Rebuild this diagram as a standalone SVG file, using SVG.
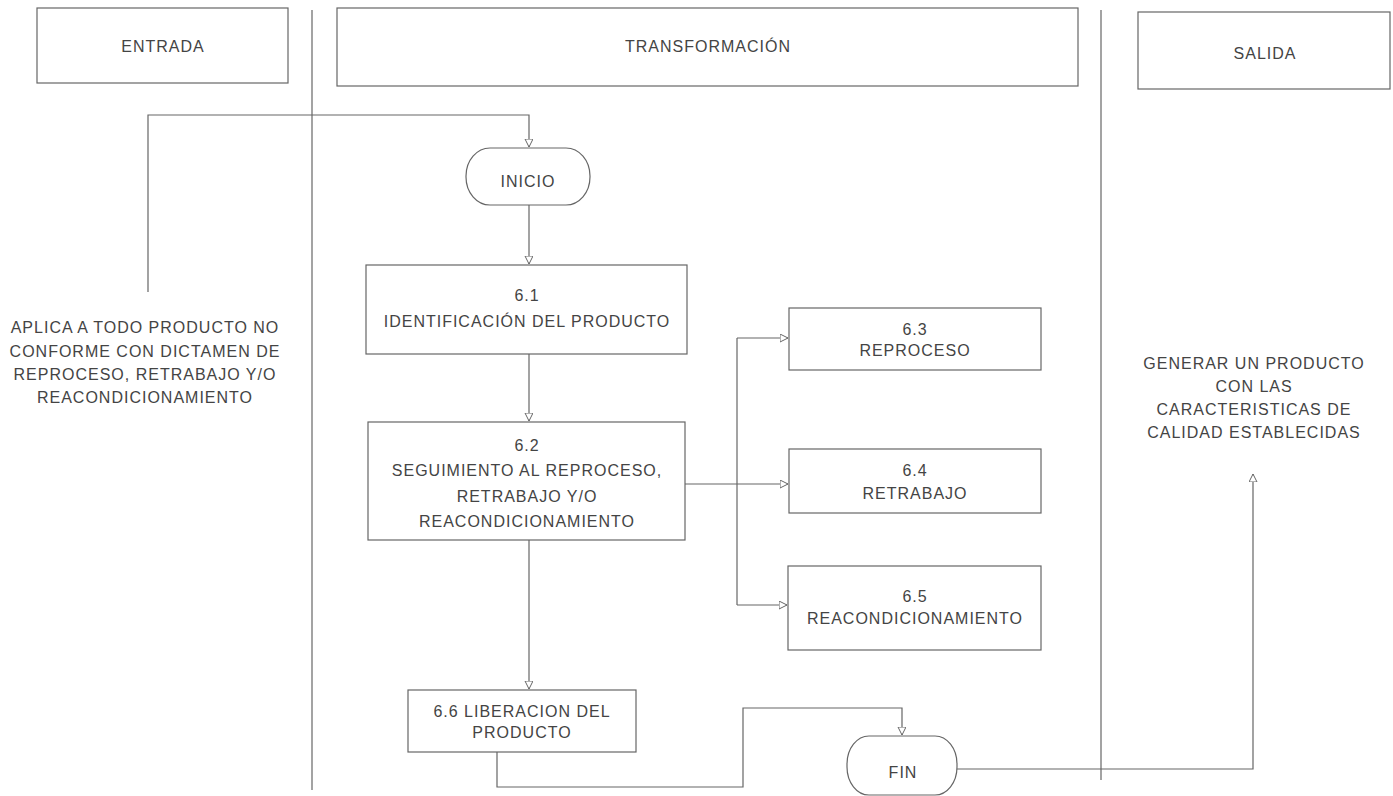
<svg xmlns="http://www.w3.org/2000/svg" width="1393" height="796" viewBox="0 0 1393 796">
<style>
.box{fill:#fff;stroke:#666;stroke-width:1.2}
.div{stroke:#666;stroke-width:1.2;fill:none}
.t{font-family:"Liberation Sans",Arial,sans-serif;font-size:16px;fill:#444;text-anchor:middle;letter-spacing:1px}
.c{fill:none;stroke:#666;stroke-width:1.2}
</style>
<defs>
<marker id="ah" markerWidth="10" markerHeight="10" refX="8" refY="4" orient="auto" markerUnits="userSpaceOnUse">
<path d="M0,0 L8,4 L0,8 z" fill="#fff" stroke="#666" stroke-width="1"/>
</marker>
</defs>
<rect width="1393" height="796" fill="#fff"/>
<g id="lanes">
<line class="div" x1="312" y1="10" x2="312" y2="790"/>
<line class="div" x1="1101" y1="10" x2="1101" y2="780"/>
</g>
<g id="h-entrada"><rect class="box" x="37" y="8" width="251" height="75"/><text class="t" x="163" y="52">ENTRADA</text></g>
<g id="h-transformacion"><rect class="box" x="337" y="8" width="741" height="78"/><text class="t" x="708" y="52">TRANSFORMACIÓN</text></g>
<g id="h-salida"><rect class="box" x="1138" y="12" width="252" height="77"/><text class="t" x="1265" y="59">SALIDA</text></g>
<g id="entrada-text">
<text class="t" x="145" y="333">APLICA A TODO PRODUCTO NO</text>
<text class="t" x="145" y="357">CONFORME CON DICTAMEN DE</text>
<text class="t" x="145" y="380">REPROCESO, RETRABAJO Y/O</text>
<text class="t" x="145" y="403">REACONDICIONAMIENTO</text>
</g>
<g id="salida-text">
<text class="t" x="1254" y="369">GENERAR UN PRODUCTO</text>
<text class="t" x="1254" y="392">CON LAS</text>
<text class="t" x="1254" y="415">CARACTERISTICAS DE</text>
<text class="t" x="1254" y="438">CALIDAD ESTABLECIDAS</text>
</g>
<g id="inicio"><rect class="box" x="466" y="148" width="124" height="57" rx="24" ry="28"/><text class="t" x="528" y="187">INICIO</text></g>
<g id="n61"><rect class="box" x="366" y="265" width="321" height="89"/><text class="t" x="527" y="301">6.1</text><text class="t" x="527" y="327">IDENTIFICACIÓN DEL PRODUCTO</text></g>
<g id="n62"><rect class="box" x="368" y="422" width="317" height="118"/><text class="t" x="527" y="451">6.2</text><text class="t" x="527" y="476">SEGUIMIENTO AL REPROCESO,</text><text class="t" x="527" y="502">RETRABAJO Y/O</text><text class="t" x="527" y="527">REACONDICIONAMIENTO</text></g>
<g id="n63"><rect class="box" x="789" y="308" width="252" height="62"/><text class="t" x="915" y="335">6.3</text><text class="t" x="915" y="356">REPROCESO</text></g>
<g id="n64"><rect class="box" x="789" y="449" width="252" height="64"/><text class="t" x="915" y="476">6.4</text><text class="t" x="915" y="499">RETRABAJO</text></g>
<g id="n65"><rect class="box" x="788" y="566" width="253" height="84"/><text class="t" x="915" y="602">6.5</text><text class="t" x="915" y="624">REACONDICIONAMIENTO</text></g>
<g id="n66"><rect class="box" x="408" y="690" width="228" height="62"/><text class="t" x="522" y="717">6.6 LIBERACION DEL</text><text class="t" x="522" y="738">PRODUCTO</text></g>
<g id="fin"><rect class="box" x="847" y="736" width="110" height="59" rx="22" ry="28"/><text class="t" x="903" y="778">FIN</text></g>
<g id="connectors">
<path class="c" d="M148,292 V115 H529 V147" marker-end="url(#ah)"/>
<path class="c" d="M529,205 V264" marker-end="url(#ah)"/>
<path class="c" d="M529,354 V421" marker-end="url(#ah)"/>
<path class="c" d="M685,484 H737"/>
<path class="c" d="M737,338 V605"/>
<path class="c" d="M737,338 H788" marker-end="url(#ah)"/>
<path class="c" d="M737,484 H788" marker-end="url(#ah)"/>
<path class="c" d="M737,605 H787" marker-end="url(#ah)"/>
<path class="c" d="M529,540 V689" marker-end="url(#ah)"/>
<path class="c" d="M497,752 V787 H743 V708 H902 V735" marker-end="url(#ah)"/>
<path class="c" d="M957,769 H1253 V474" marker-end="url(#ah)"/>
</g>
</svg>
